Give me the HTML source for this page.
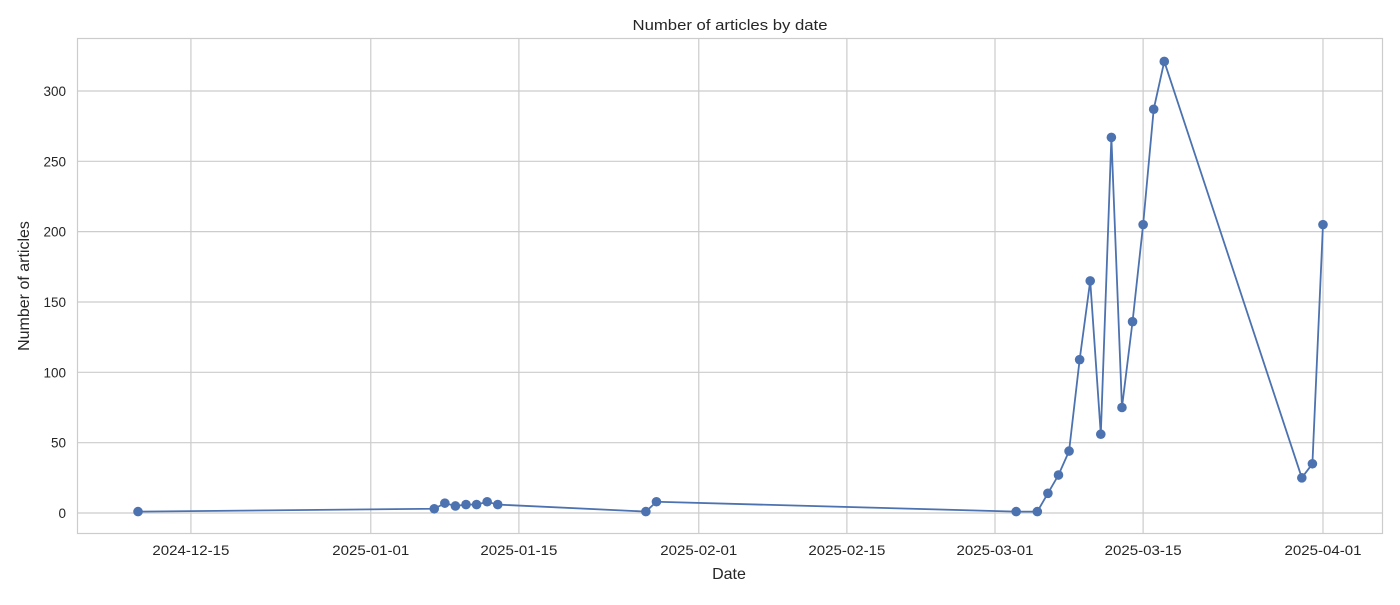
<!DOCTYPE html>
<html><head><meta charset="utf-8"><style>
body{margin:0;background:#fff;font-family:"Liberation Sans",sans-serif;}
svg text{font-family:"Liberation Sans",sans-serif;fill:#262626;}
</style></head><body>
<svg id="chart" width="1400" height="600">
<rect x="0" y="0" width="1400" height="600" fill="#fff"/>
<text x="730" y="30" text-anchor="middle" font-size="14.5" textLength="195" lengthAdjust="spacingAndGlyphs">Number of articles by date</text>
<g id="grid"></g><g id="xt"></g><g id="yt"></g>
<rect x="77.5" y="38.5" width="1305" height="495" fill="none" stroke="#cccccc" stroke-width="1.2"/>
<g id="series"></g>
<text x="729" y="579" text-anchor="middle" font-size="16">Date</text>
<text transform="translate(29,286) rotate(-90)" text-anchor="middle" font-size="16">Number of articles</text>
</svg>
<script>
const dates=["2024-12-10","2025-01-07","2025-01-08","2025-01-09","2025-01-10","2025-01-11","2025-01-12","2025-01-13","2025-01-27","2025-01-28","2025-03-03","2025-03-05","2025-03-06","2025-03-07","2025-03-08","2025-03-09","2025-03-10","2025-03-11","2025-03-12","2025-03-13","2025-03-14","2025-03-15","2025-03-16","2025-03-17","2025-03-30","2025-03-31","2025-04-01"];
const counts=[1,3,7,5,6,6,8,6,1,8,1,1,14,27,44,109,165,56,267,75,136,205,287,321,25,35,205];
const xTicks=["2024-12-15","2025-01-01","2025-01-15","2025-02-01","2025-02-15","2025-03-01","2025-03-15","2025-04-01"];
const yTicks=[0,50,100,150,200,250,300];
const NS="http://www.w3.org/2000/svg";
const day=s=>Date.parse(s+"T00:00:00Z")/86400000;
const d0=day("2025-03-01"), pxd=10.58;
const X=s=>995+(day(s)-d0)*pxd;
const Y=v=>513-v*1.4067;
function mk(t,a,p){const e=document.createElementNS(NS,t);for(const k in a)e.setAttribute(k,a[k]);p.appendChild(e);return e;}
const grid=document.getElementById('grid'),xt=document.getElementById('xt'),yt=document.getElementById('yt'),ser=document.getElementById('series');
xTicks.forEach(t=>{const x=X(t);
const l=mk('line',{x1:x,x2:x,y1:38,y2:533,stroke:'#cccccc','stroke-width':1.2},grid);


const tx=mk('text',{x:x,y:555,'text-anchor':'middle','font-size':14,textLength:77,lengthAdjust:'spacingAndGlyphs'},xt);tx.textContent=t;

});
yTicks.forEach(v=>{const y=Y(v);
const l=mk('line',{x1:77,x2:1383,y1:y,y2:y,stroke:'#cccccc','stroke-width':1.2},grid);


const tx=mk('text',{x:66,y:y+5,'text-anchor':'end','font-size':13.5},yt);tx.textContent=v;

});
const pts=dates.map((d,i)=>X(d)+','+Y(counts[i])).join(' ');
const pl=mk('polyline',{points:pts,fill:'none',stroke:'#4c72b0','stroke-width':1.8},ser);


dates.forEach((d,i)=>{const c=mk('circle',{cx:X(d),cy:Y(counts[i]),r:4.8,fill:'#4c72b0'},ser);

});
</script>
</body></html>
